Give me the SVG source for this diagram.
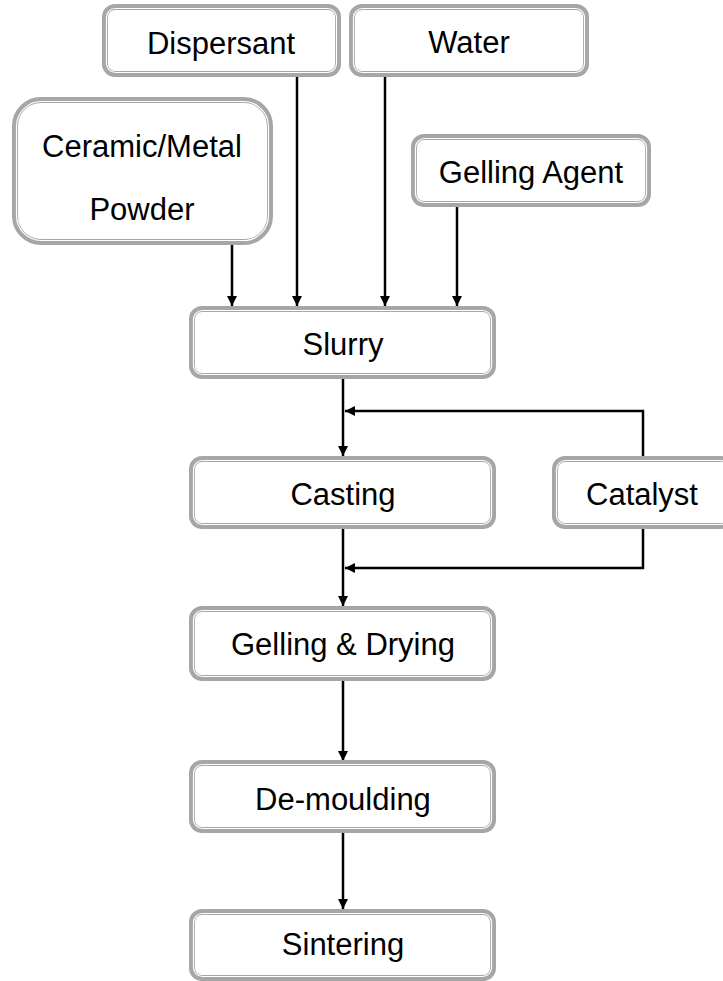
<svg xmlns="http://www.w3.org/2000/svg" width="723" height="981" viewBox="0 0 723 981">
<defs>
<style>
.b{fill:#fff;stroke:#a6a6a6;stroke-width:6}
.i{fill:none;stroke:#fff;stroke-width:1.2}
.t{font-family:"Liberation Sans",Arial,sans-serif;font-size:31px;fill:#000;text-anchor:middle}
.c{fill:none;stroke:#000;stroke-width:2.5}
</style>
<marker id="ah" viewBox="0 0 10 10" refX="10" refY="5" markerWidth="4" markerHeight="4" orient="auto" markerUnits="strokeWidth">
<path d="M0,0 L10,5 L0,10 z" fill="#000"/>
</marker>
</defs>
<rect width="723" height="981" fill="#fff"/>
<g id="connectors">
<path class="c" d="M232,243 V306" marker-end="url(#ah)"/>
<path class="c" d="M297,75 V306" marker-end="url(#ah)"/>
<path class="c" d="M385,75 V306" marker-end="url(#ah)"/>
<path class="c" d="M457,205 V306" marker-end="url(#ah)"/>
<path class="c" d="M343,378 V456" marker-end="url(#ah)"/>
<path class="c" d="M643,457 V411 H345" marker-end="url(#ah)"/>
<path class="c" d="M643,528 V568 H345" marker-end="url(#ah)"/>
<path class="c" d="M343,528 V606" marker-end="url(#ah)"/>
<path class="c" d="M343,680 V761" marker-end="url(#ah)"/>
<path class="c" d="M343,832 V909" marker-end="url(#ah)"/>
</g>
<g id="dispersant">
<rect class="b" x="105" y="7" width="233" height="67" rx="10"/>
<rect class="i" x="106.5" y="8.5" width="230" height="64" rx="9"/>
<text class="t" x="221" y="54">Dispersant</text>
</g>
<g id="water">
<rect class="b" x="352" y="7" width="234" height="67" rx="10"/>
<rect class="i" x="353.5" y="8.5" width="231" height="64" rx="9"/>
<text class="t" x="469" y="53">Water</text>
</g>
<g id="powder">
<rect class="b" x="15" y="100" width="255" height="142" rx="26"/>
<rect class="i" x="16.5" y="101.5" width="252" height="139" rx="25"/>
<text class="t" x="142" y="157">Ceramic/Metal</text>
<text class="t" x="142" y="220">Powder</text>
</g>
<g id="gelling-agent">
<rect class="b" x="414" y="137" width="234" height="67" rx="10"/>
<rect class="i" x="415.5" y="138.5" width="231" height="64" rx="9"/>
<text class="t" x="531" y="183">Gelling Agent</text>
</g>
<g id="slurry">
<rect class="b" x="192" y="309" width="301" height="67" rx="10"/>
<rect class="i" x="193.5" y="310.5" width="298" height="64" rx="9"/>
<text class="t" x="343" y="355">Slurry</text>
</g>
<g id="casting">
<rect class="b" x="192" y="459" width="301" height="67" rx="10"/>
<rect class="i" x="193.5" y="460.5" width="298" height="64" rx="9"/>
<text class="t" x="343" y="505">Casting</text>
</g>
<g id="catalyst">
<rect class="b" x="555" y="459" width="176" height="67" rx="10"/>
<rect class="i" x="556.5" y="460.5" width="173" height="64" rx="9"/>
<text class="t" x="642" y="505">Catalyst</text>
</g>
<g id="gelling-drying">
<rect class="b" x="192" y="609" width="301" height="69" rx="10"/>
<rect class="i" x="193.5" y="610.5" width="298" height="66" rx="9"/>
<text class="t" x="343" y="655">Gelling &amp; Drying</text>
</g>
<g id="demoulding">
<rect class="b" x="192" y="763" width="301" height="67" rx="10"/>
<rect class="i" x="193.5" y="764.5" width="298" height="64" rx="9"/>
<text class="t" x="343" y="810">De-moulding</text>
</g>
<g id="sintering">
<rect class="b" x="192" y="912" width="301" height="66" rx="10"/>
<rect class="i" x="193.5" y="913.5" width="298" height="63" rx="9"/>
<text class="t" x="343" y="955">Sintering</text>
</g>
</svg>
